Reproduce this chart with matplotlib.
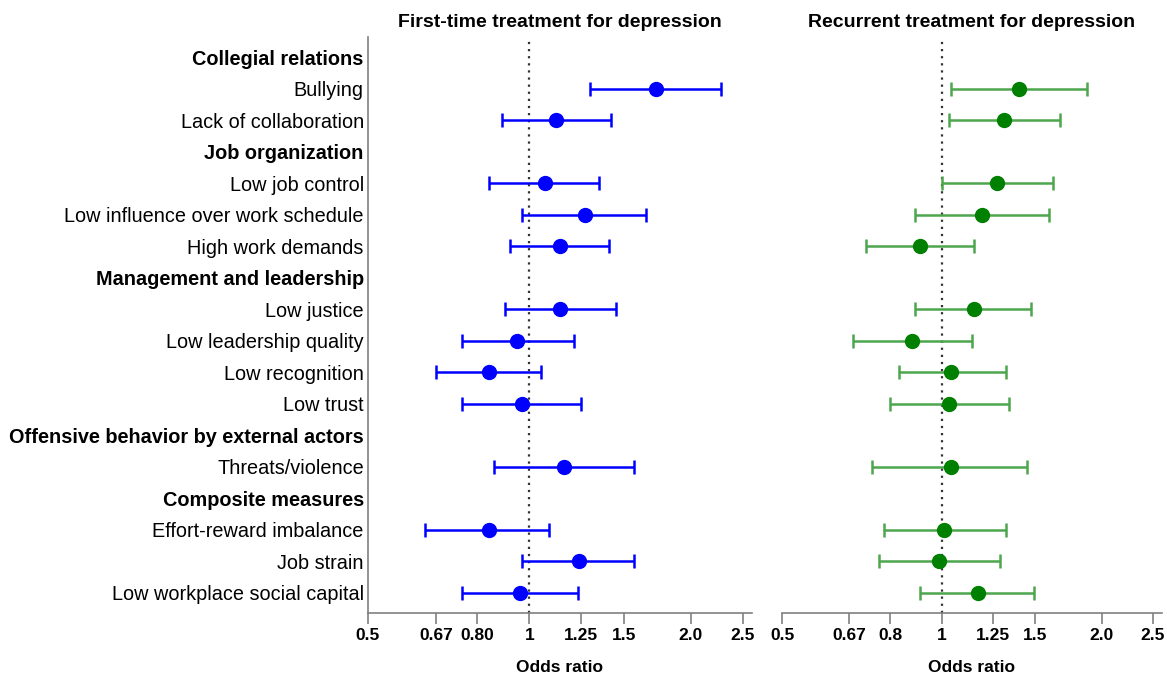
import matplotlib.pyplot as plt
from matplotlib.ticker import FixedLocator, NullLocator

plt.rcParams['font.family'] = ['Liberation Sans', 'DejaVu Sans']

labels = ["Collegial relations", "Bullying", "Lack of collaboration",
          "Job organization", "Low job control", "Low influence over work schedule",
          "High work demands", "Management and leadership", "Low justice",
          "Low leadership quality", "Low recognition", "Low trust",
          "Offensive behavior by external actors", "Threats/violence",
          "Composite measures", "Effort-reward imbalance", "Job strain",
          "Low workplace social capital"]
headers = {"Collegial relations", "Job organization", "Management and leadership",
           "Offensive behavior by external actors", "Composite measures"}

# first-time treatment (None = header row)
first_or = [None, 1.72, 1.12, None, 1.07, 1.27, 1.14, None, 1.14, 0.95, 0.84, 0.97,
            None, 1.16, None, 0.84, 1.24, 0.96]
first_lo = [None, 1.30, 0.89, None, 0.84, 0.97, 0.92, None, 0.90, 0.75, 0.67, 0.75,
            None, 0.86, None, 0.64, 0.97, 0.75]
first_hi = [None, 2.28, 1.42, None, 1.35, 1.65, 1.41, None, 1.45, 1.21, 1.05, 1.25,
            None, 1.57, None, 1.09, 1.57, 1.23]

# recurrent treatment
rec_or = [None, 1.40, 1.31, None, 1.27, 1.19, 0.91, None, 1.15, 0.88, 1.04, 1.03,
          None, 1.04, None, 1.01, 0.99, 1.17]
rec_lo = [None, 1.04, 1.03, None, 1.00, 0.89, 0.72, None, 0.89, 0.68, 0.83, 0.80,
          None, 0.74, None, 0.78, 0.76, 0.91]
rec_hi = [None, 1.88, 1.67, None, 1.62, 1.59, 1.15, None, 1.47, 1.14, 1.32, 1.34,
          None, 1.45, None, 1.32, 1.29, 1.49]

left_ticks = [0.5, 0.67, 0.80, 1, 1.25, 1.5, 2.0, 2.5]
left_ticklabels = ["0.5", "0.67", "0.80", "1", "1.25", "1.5", "2.0", "2.5"]
right_ticklabels = ["0.5", "0.67", "0.8", "1", "1.25", "1.5", "2.0", "2.5"]

fig = plt.figure(figsize=(11.67, 6.78), dpi=100)
ax1 = fig.add_axes([0.3153, 0.0959, 0.329, 0.8496])
ax2 = fig.add_axes([0.6701, 0.0959, 0.3256, 0.8496])


def draw_panel(ax, ors, los, his, color, linecolor, title, ticklabels):
    rows = [i for i, v in enumerate(ors) if v is not None]
    x = [ors[i] for i in rows]
    lo = [ors[i] - los[i] for i in rows]
    hi = [his[i] - ors[i] for i in rows]
    ax.errorbar(x, rows, xerr=[lo, hi], fmt='none', ecolor=linecolor,
                elinewidth=1.8, capsize=5, capthick=1.8, zorder=2)
    ax.plot(x, rows, 'o', color=color, markersize=10, zorder=3)
    ax.axvline(1, color='#333333', linestyle=(0, (1, 2.2)), linewidth=1.6, zorder=1)
    ax.set_xscale('log')
    ax.set_xlim(0.5, 2.6)
    ax.set_ylim(17.65, -0.65)
    ax.xaxis.set_major_locator(FixedLocator(left_ticks))
    ax.xaxis.set_minor_locator(NullLocator())
    ax.set_xticklabels(ticklabels, fontsize=12.5, fontweight='bold')
    ax.tick_params(axis='x', direction='out', length=8, width=1.2,
                   color='#808080', pad=3)
    ax.set_xlabel("Odds ratio", fontsize=12.5, fontweight='bold', labelpad=12)
    ax.set_title(title, fontsize=14, fontweight='bold', pad=7)
    for s in ['top', 'right']:
        ax.spines[s].set_visible(False)
    ax.spines['bottom'].set_color('#808080')
    ax.spines['bottom'].set_linewidth(1.2)


draw_panel(ax1, first_or, first_lo, first_hi, 'blue', 'blue',
           "First-time treatment for depression", left_ticklabels)
draw_panel(ax2, rec_or, rec_lo, rec_hi, 'green', '#4da64d',
           "Recurrent treatment for depression", right_ticklabels)

ax1.spines['left'].set_color('#808080')
ax1.spines['left'].set_linewidth(1.2)
ax1.set_yticks(range(len(labels)))
ax1.set_yticklabels(labels, fontsize=14.3)
ax1.tick_params(axis='y', length=0, pad=3)
for t in ax1.get_yticklabels():
    if t.get_text() in headers:
        t.set_fontweight('bold')

ax2.spines['left'].set_visible(False)
ax2.set_yticks([])

fig.savefig("out.png", dpi=100)
